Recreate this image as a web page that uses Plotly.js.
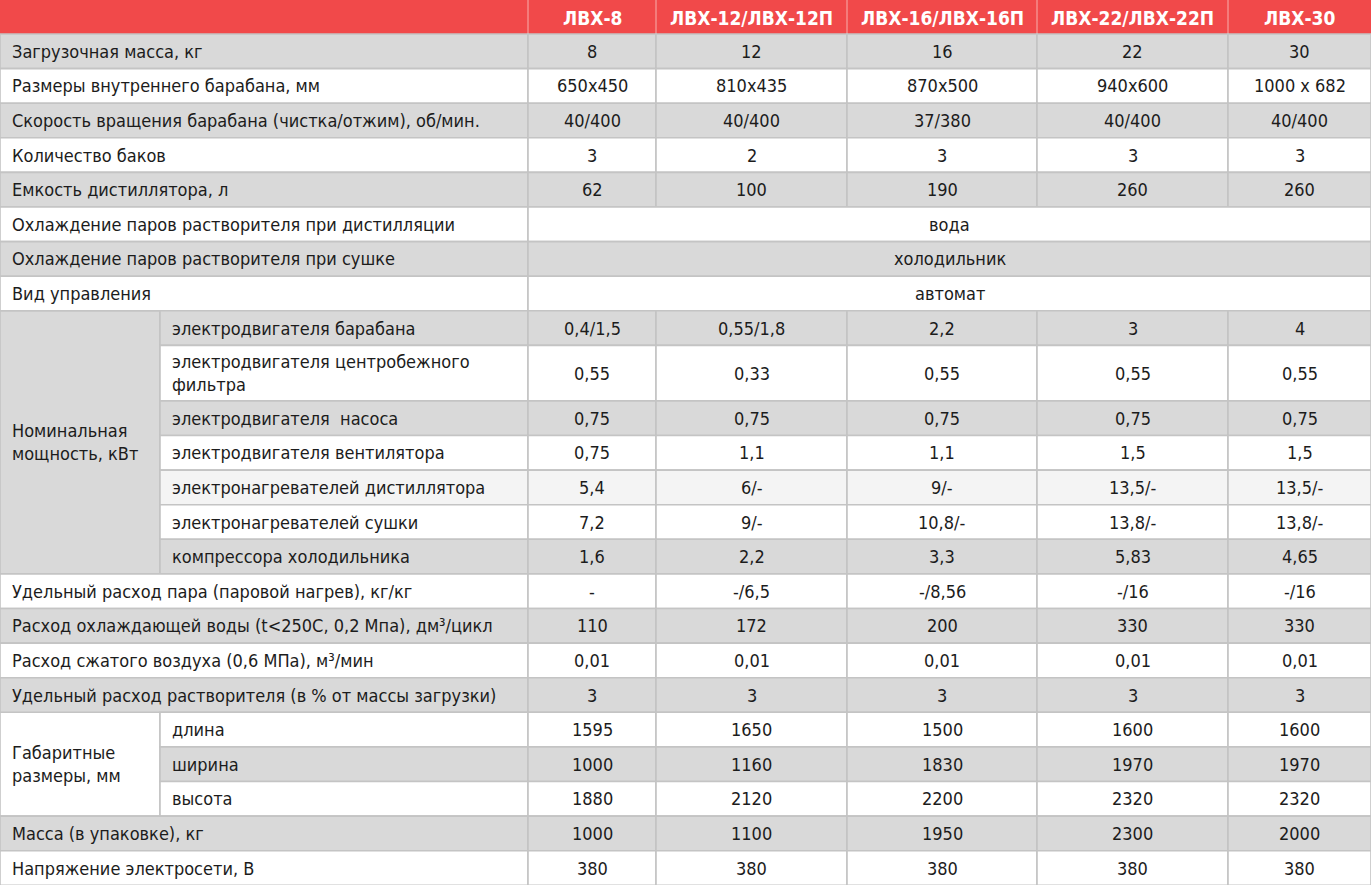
<!DOCTYPE html>
<html>
<head>
<meta charset="utf-8">
<script src="https://cdn.plot.ly/plotly-3.0.1.min.js"></script>
<style>
  html, body { margin: 0; padding: 0; background: #ffffff; }
  #chart { width: 1371px; height: 885px; }
</style>
</head>
<body>
<div id="chart"></div>
<script>
// ---------------- DATA ----------------
const models = ['ЛВХ-8', 'ЛВХ-12/ЛВХ-12П', 'ЛВХ-16/ЛВХ-16П', 'ЛВХ-22/ЛВХ-22П', 'ЛВХ-30'];

const paramGroups = [
  null, null, null, null, null, null, null, null,
  'Номинальная<br>мощность, кВт', 'Номинальная<br>мощность, кВт', 'Номинальная<br>мощность, кВт',
  'Номинальная<br>мощность, кВт', 'Номинальная<br>мощность, кВт', 'Номинальная<br>мощность, кВт',
  'Номинальная<br>мощность, кВт',
  null, null, null, null,
  'Габаритные<br>размеры, мм', 'Габаритные<br>размеры, мм', 'Габаритные<br>размеры, мм',
  null, null
];

const paramLabels = [
  'Загрузочная масса, кг',
  'Размеры внутреннего барабана, мм',
  'Скорость вращения барабана (чистка/отжим), об/мин.',
  'Количество баков',
  'Емкость дистиллятора, л',
  'Охлаждение паров растворителя при дистилляции',
  'Охлаждение паров растворителя при сушке',
  'Вид управления',
  'электродвигателя барабана',
  'электродвигателя центробежного<br>фильтра',
  'электродвигателя \u00a0насоса',
  'электродвигателя вентилятора',
  'электронагревателей дистиллятора',
  'электронагревателей сушки',
  'компрессора холодильника',
  'Удельный расход пара (паровой нагрев), кг/кг',
  'Расход охлаждающей воды (t&lt;250С, 0,2 Мпа), дм³/цикл',
  'Расход сжатого воздуха (0,6 МПа), м³/мин',
  'Удельный расход растворителя (в % от массы загрузки)',
  'длина',
  'ширина',
  'высота',
  'Масса (в упаковке), кг',
  'Напряжение электросети, В'
];

// values shared by all models (merged across the model columns)
const sharedValues = [null, null, null, null, null, 'вода', 'холодильник', 'автомат',
  null, null, null, null, null, null, null, null, null, null, null, null, null, null, null, null];

const lvx8  = ['8', '650x450', '40/400', '3', '62', null, null, null,
  '0,4/1,5', '0,55', '0,75', '0,75', '5,4', '7,2', '1,6',
  '-', '110', '0,01', '3', '1595', '1000', '1880', '1000', '380'];
const lvx12 = ['12', '810x435', '40/400', '2', '100', null, null, null,
  '0,55/1,8', '0,33', '0,75', '1,1', '6/-', '9/-', '2,2',
  '-/6,5', '172', '0,01', '3', '1650', '1160', '2120', '1100', '380'];
const lvx16 = ['16', '870x500', '37/380', '3', '190', null, null, null,
  '2,2', '0,55', '0,75', '1,1', '9/-', '10,8/-', '3,3',
  '-/8,56', '200', '0,01', '3', '1500', '1830', '2200', '1950', '380'];
const lvx22 = ['22', '940x600', '40/400', '3', '260', null, null, null,
  '3', '0,55', '0,75', '1,5', '13,5/-', '13,8/-', '5,83',
  '-/16', '330', '0,01', '3', '1600', '1970', '2320', '2300', '380'];
const lvx30 = ['30', '1000 x 682', '40/400', '3', '260', null, null, null,
  '4', '0,55', '0,75', '1,5', '13,5/-', '13,8/-', '4,65',
  '-/16', '330', '0,01', '3', '1600', '1970', '2320', '2000', '380'];

const modelValues = [lvx8, lvx12, lvx16, lvx22, lvx30];

// ---------------- LAYOUT / STYLE ----------------
const W = 1371, H = 885;
const colEdges = [0, 528, 656, 847, 1037, 1228, W];
const subSplit = 160;
const headerH = 34;
const rowH = 34.6;
const tallRowH = 55.5;

const RED = '#f1494a';
const GRAY = '#d9d9d9';
const LIGHT = '#f4f4f4';
const WHITE = '#ffffff';
const GRID = '#c4c4c4';
const TEXT = '#1c1c1c';
const FONT = '"Liberation Sans Narrow", "DejaVu Sans Condensed", "Roboto", sans-serif';

const nRows = paramLabels.length;
const rowTop = [], rowBot = [];
let y = headerH;
for (let i = 0; i < nRows; i++) {
  const h = paramLabels[i].indexOf('<br>') >= 0 ? tallRowH : rowH;
  rowTop.push(y); y += h; rowBot.push(y);
}
function rowFill(i) {
  if (i === 12) return LIGHT;
  return i % 2 === 0 ? GRAY : WHITE;
}

const shapes = [];
const annotations = [];
function rect(x0, x1, y0, y1, fill) {
  shapes.push({type: 'rect', xref: 'x', yref: 'y', x0: x0, x1: x1, y0: y0, y1: y1,
    fillcolor: fill, line: {color: GRID, width: 1.6}, layer: 'below'});
}
function text(x, yy, t, anchor, opts) {
  opts = opts || {};
  annotations.push({xref: 'x', yref: 'y', x: x, y: yy, text: t, showarrow: false,
    xanchor: anchor, yanchor: 'middle', align: anchor === 'center' ? 'center' : 'left',
    font: {family: FONT, size: opts.size || 18, color: opts.color || TEXT, weight: opts.weight || 400}});
}

// header
shapes.push({type: 'rect', xref: 'x', yref: 'y', x0: 0, x1: W, y0: 0, y1: headerH,
  fillcolor: RED, line: {width: 0}, layer: 'below'});
for (let c = 0; c < models.length; c++) {
  const x0 = colEdges[c + 1], x1 = colEdges[c + 2];
  shapes.push({type: 'line', xref: 'x', yref: 'y', x0: x0, x1: x0, y0: 0, y1: headerH,
    line: {color: '#f58a88', width: 1.6}, layer: 'below'});
  text((x0 + x1) / 2, headerH / 2 + 1, models[c], 'center', {color: '#ffffff', size: 19, weight: 700});
}

// group (merged label) cells
const groupsDone = {};
for (let i = 0; i < nRows; i++) {
  const g = paramGroups[i];
  if (g && !groupsDone[g]) {
    let j = i;
    while (j + 1 < nRows && paramGroups[j + 1] === g) j++;
    groupsDone[g] = true;
    rect(0, subSplit, rowTop[i], rowBot[j], rowFill(i));
    text(10, (rowTop[i] + rowBot[j]) / 2, g, 'left');
  }
}

// body rows
for (let i = 0; i < nRows; i++) {
  const fill = rowFill(i);
  const yc = (rowTop[i] + rowBot[i]) / 2;
  if (paramGroups[i]) {
    rect(subSplit, colEdges[1], rowTop[i], rowBot[i], fill);
    text(subSplit + 10, yc, paramLabels[i], 'left');
  } else {
    rect(0, colEdges[1], rowTop[i], rowBot[i], fill);
    text(10, yc, paramLabels[i], 'left');
  }
  if (sharedValues[i] !== null) {
    rect(colEdges[1], W, rowTop[i], rowBot[i], fill);
    text((colEdges[1] + W) / 2, yc, sharedValues[i], 'center');
  } else {
    for (let c = 0; c < models.length; c++) {
      const x0 = colEdges[c + 1], x1 = colEdges[c + 2];
      rect(x0, x1, rowTop[i], rowBot[i], fill);
      text((x0 + x1) / 2, yc, modelValues[c][i], 'center');
    }
  }
}

const layout = {
  width: W, height: H,
  margin: {l: 0, r: 0, t: 0, b: 0, pad: 0},
  paper_bgcolor: '#ffffff', plot_bgcolor: '#ffffff',
  showlegend: false,
  xaxis: {range: [0, W], visible: false, fixedrange: true},
  yaxis: {range: [H, 0], visible: false, fixedrange: true},
  shapes: shapes,
  annotations: annotations
};

Plotly.newPlot('chart', [{x: [], y: [], type: 'scatter', mode: 'markers', hoverinfo: 'skip'}], layout,
  {staticPlot: true, displayModeBar: false});
</script>
</body>
</html>
